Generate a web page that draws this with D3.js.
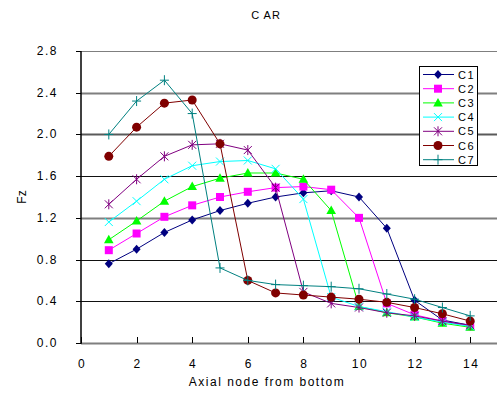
<!DOCTYPE html>
<html>
<head>
<meta charset="utf-8">
<script src="https://cdn.jsdelivr.net/npm/d3@7"></script>
<style>
  body { margin: 0; background: #fff; }
  svg { display: block; font-family: "Liberation Sans", Arial, sans-serif; }
</style>
</head>
<body>
<svg width="497" height="394"></svg>
<script>
// axial nodes 1..14
const nodes = [1, 2, 3, 4, 5, 6, 7, 8, 9, 10, 11, 12, 13, 14]

const seriesNames = ["C1", "C2", "C3", "C4", "C5", "C6", "C7"]
const c1 = [0.76, 0.90, 1.06, 1.18, 1.27, 1.34, 1.40, 1.44, 1.46, 1.40, 1.10, 0.41, 0.22, 0.17]
const c2 = [0.89, 1.05, 1.21, 1.32, 1.40, 1.45, 1.49, 1.50, 1.47, 1.20, 0.38, 0.27, 0.21, 0.16]
const c3 = [0.99, 1.17, 1.36, 1.50, 1.58, 1.63, 1.63, 1.57, 1.27, 0.35, 0.29, 0.25, 0.19, 0.15]
const c4 = [1.16, 1.36, 1.57, 1.70, 1.74, 1.75, 1.67, 1.38, 0.44, 0.35, 0.30, 0.25, 0.20, 0.16]
const c5 = [1.33, 1.57, 1.79, 1.90, 1.91, 1.85, 1.49, 0.49, 0.38, 0.34, 0.29, 0.26, 0.21, 0.17]
const c6 = [1.79, 2.07, 2.30, 2.33, 1.91, 0.60, 0.48, 0.46, 0.44, 0.42, 0.39, 0.34, 0.28, 0.21]
const c7 = [2.00, 2.32, 2.52, 2.20, 0.72, 0.60, 0.56, 0.55, 0.54, 0.52, 0.47, 0.42, 0.34, 0.26]
const allSeries = [c1, c2, c3, c4, c5, c6, c7]

const colors = ["#000080", "#ff00ff", "#00ff00", "#00ffff", "#800080", "#800000", "#008080"]
const markers = ["diamond", "square", "triangle", "x", "star", "circle", "plus"]

const xTicks = [0, 2, 4, 6, 8, 10, 12, 14]
const yTicks = [0, 0.4, 0.8, 1.2, 1.6, 2.0, 2.4, 2.8]

const svg = d3.select("svg")

const x = d3.scaleLinear().domain([0, 15]).range([81, 498])
const y = d3.scaleLinear().domain([0, 2.8]).range([343, 51])

// gridlines - the original is rescaled, so some look gray & heavier and some thin black
const gridStyle = (d, i) => {
  if (i === 7) return ["#7f7f7f", 1]
  if (i === 5) return ["#5a5a5a", 2]
  if (i === 0 || i === 3 || i === 6) return ["#7f7f7f", 2]
  return ["#111", 1]
}

svg.append("g")
  .selectAll("line")
  .data(yTicks)
  .join("line")
  .attr("x1", x(0))
  .attr("x2", 497)
  .attr("y1", d => Math.round(y(d)) + 0.5)
  .attr("y2", d => Math.round(y(d)) + 0.5)
  .attr("stroke", (d, i) => gridStyle(d, i)[0])
  .attr("stroke-width", (d, i) => gridStyle(d, i)[1])

// y axis
svg.append("line")
  .attr("x1", x(0)).attr("x2", x(0))
  .attr("y1", y(2.8)).attr("y2", y(0) + 1)
  .attr("stroke", "#000").attr("stroke-width", 1.5)

svg.append("g")
  .selectAll("line")
  .data(yTicks)
  .join("line")
  .attr("x1", x(0) - 5).attr("x2", x(0))
  .attr("y1", d => Math.round(y(d)) + 0.5)
  .attr("y2", d => Math.round(y(d)) + 0.5)
  .attr("stroke", "#000")

svg.append("g")
  .selectAll("text")
  .data(yTicks)
  .join("text")
  .attr("x", 58)
  .attr("y", d => y(d) + 4)
  .attr("text-anchor", "end")
  .attr("font-size", 12)
  .attr("letter-spacing", 1.5)
  .text(d => d.toFixed(1))

// x axis ticks (point upward, inside the plot)
svg.append("g")
  .selectAll("line")
  .data(xTicks)
  .join("line")
  .attr("x1", d => Math.round(x(d)) + 0.5)
  .attr("x2", d => Math.round(x(d)) + 0.5)
  .attr("y1", y(0) - 6).attr("y2", y(0))
  .attr("stroke", "#000")

svg.append("g")
  .selectAll("text")
  .data(xTicks)
  .join("text")
  .attr("x", d => x(d) + 1)
  .attr("y", 368)
  .attr("text-anchor", "middle")
  .attr("font-size", 12)
  .attr("letter-spacing", 1.5)
  .text(d => d)

// titles
svg.append("text")
  .attr("x", 266).attr("y", 19)
  .attr("text-anchor", "middle")
  .attr("font-size", 11)
  .attr("letter-spacing", 1)
  .text("C AR")

svg.append("text")
  .attr("x", 267).attr("y", 386)
  .attr("text-anchor", "middle")
  .attr("font-size", 12)
  .attr("letter-spacing", 1.5)
  .text("Axial node from bottom")

svg.append("text")
  .attr("transform", "translate(26,197) rotate(-90)")
  .attr("text-anchor", "middle")
  .attr("font-size", 12)
  .text("Fz")

// marker drawing
function drawMarker(g, type, color) {
  if (type === "diamond") {
    g.append("path").attr("d", "M0,-4.5L4,0L0,4.5L-4,0Z").attr("fill", color)
  } else if (type === "square") {
    g.append("rect").attr("x", -4).attr("y", -4).attr("width", 8).attr("height", 8).attr("fill", color)
  } else if (type === "triangle") {
    g.append("path").attr("d", "M0,-5L4.8,3.5L-4.8,3.5Z").attr("fill", color)
  } else if (type === "circle") {
    g.append("circle").attr("r", 4.5).attr("fill", color)
  } else if (type === "x") {
    g.append("path").attr("d", "M-4,-4L4,4M-4,4L4,-4").attr("stroke", color).attr("fill", "none")
  } else if (type === "star") {
    g.append("path").attr("d", "M-4,-4L4,4M-4,4L4,-4M0,-5L0,5").attr("stroke", color).attr("fill", "none")
  } else if (type === "plus") {
    g.append("path").attr("d", "M-4.5,0L4.5,0M0,-5L0,5").attr("stroke", color).attr("fill", "none")
  }
}

const line = d3.line()
  .x((d, i) => x(nodes[i]))
  .y(d => y(d))

allSeries.forEach((vals, s) => {
  const g = svg.append("g")
  g.append("path")
    .datum(vals)
    .attr("d", line)
    .attr("fill", "none")
    .attr("stroke", colors[s])
    .attr("stroke-width", 1)

  g.selectAll("g.m")
    .data(vals)
    .join("g")
    .attr("class", "m")
    .attr("transform", (d, i) => `translate(${x(nodes[i])},${y(d)})`)
    .each(function () { drawMarker(d3.select(this), markers[s], colors[s]) })
})

// legend
const legend = svg.append("g")
legend.append("rect")
  .attr("x", 419.5).attr("y", 66.5)
  .attr("width", 58).attr("height", 99)
  .attr("fill", "#fff").attr("stroke", "#000")

seriesNames.forEach((name, i) => {
  const ly = 74.5 + i * 14.2
  legend.append("line")
    .attr("x1", 423).attr("x2", 454)
    .attr("y1", ly).attr("y2", ly)
    .attr("stroke", colors[i])
  const m = legend.append("g").attr("transform", `translate(438,${ly})`)
  drawMarker(m, markers[i], colors[i])
  legend.append("text")
    .attr("x", 458).attr("y", ly + 4)
    .attr("font-size", 11)
    .attr("letter-spacing", 1.5)
    .text(name)
})
</script>
</body>
</html>
